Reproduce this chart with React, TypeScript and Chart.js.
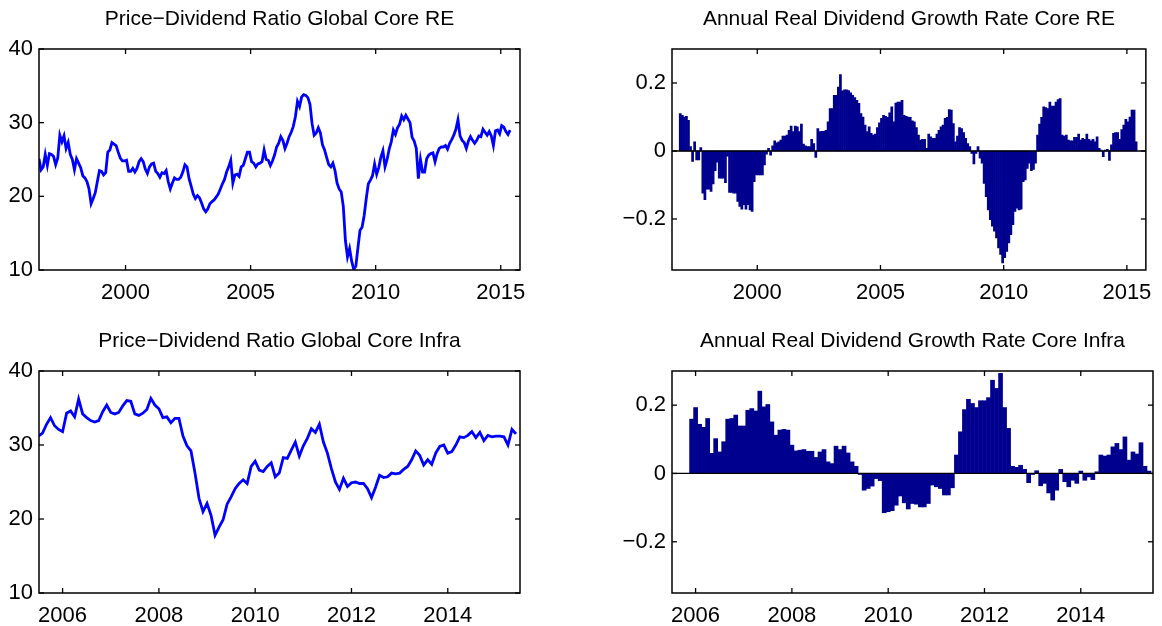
import { useEffect, useRef } from "react";
import { Chart, registerables } from "chart.js";

Chart.register(...registerables);

const FONT = "'Liberation Sans', Arial, Helvetica, sans-serif";

// ---------- Data ----------
// Panel 1: Price-Dividend Ratio Global Core RE (monthly, starting mid-1996)
const RE_PD_START = 1996.54;
const RE_PD = [
  25.1, 23.6, 24.0, 25.7, 24.2, 25.8, 25.7, 25.4, 24.3, 25.2,
  28.3, 27.4, 28.2, 26.5, 27.3, 25.7, 25.0, 23.6, 25.1, 24.5,
  23.9, 22.8, 22.5, 22.0, 21.0, 19.0, 19.7, 20.5, 22.0, 23.5,
  23.4, 22.9, 23.2, 26.0, 26.3, 27.3, 27.1, 26.9, 26.0, 25.2,
  24.8, 24.8, 24.9, 23.4, 23.4, 23.8, 23.3, 23.8, 24.7, 25.1,
  24.7, 23.7, 23.1, 24.0, 24.4, 24.5, 23.4, 23.1, 22.6, 23.2,
  23.1, 23.5, 22.0, 21.0, 21.8, 22.5, 22.3, 22.3, 22.6, 23.3,
  24.3, 24.0, 22.4, 21.4, 20.3, 19.7, 20.1, 19.8, 19.1, 18.3,
  17.9, 18.3, 19.0, 19.3, 19.5, 19.9, 20.3, 21.0, 21.7, 22.3,
  23.3, 24.0, 24.9, 21.8, 22.9, 23.0, 22.7, 24.0, 24.2, 25.1,
  26.0, 26.0, 24.7, 24.5, 24.0, 24.4, 24.5, 24.7, 26.3, 25.0,
  24.9, 24.2, 24.8, 25.6, 26.7, 27.2, 28.1, 27.6, 26.5, 27.2,
  28.1, 28.7, 29.5, 30.8, 32.9, 32.2, 33.5, 33.8, 33.7, 33.4,
  32.5, 29.9, 28.3, 28.6, 29.3, 28.6, 27.0, 26.3, 25.3, 24.3,
  24.0, 24.5, 23.5, 21.8, 21.0, 20.6, 18.6, 14.0, 11.8, 12.9,
  11.2, 10.1, 10.5, 13.0, 15.4, 15.8, 17.4, 19.7, 21.7, 22.2,
  22.8, 24.4, 23.0, 23.9, 25.3, 26.2, 24.0, 25.0, 26.4, 27.4,
  29.0, 28.4, 29.3, 29.8, 30.9, 30.4, 31.0, 30.5, 30.0, 28.0,
  27.5, 26.5, 22.4, 25.0, 23.3, 23.3, 25.1, 25.6, 25.8, 25.9,
  24.7, 25.8, 26.5, 26.7, 26.7, 26.9, 26.4, 27.2, 27.7, 28.3,
  29.1, 30.4, 28.2, 27.6, 27.3, 26.5, 27.5, 28.1, 27.6, 27.2,
  27.6, 28.2, 28.1, 29.1, 28.7, 28.3, 28.8, 28.2, 26.9, 28.9,
  29.0, 28.5, 29.6, 29.4, 28.8, 28.4, 29.0,
];

// Panel 2: Annual Real Dividend Growth Rate Core RE (monthly bars)
const RE_DG_START = 1996.875;
const RE_DG = [
  0.110, 0.105, 0.100, 0.102, 0.090, 0.013, -0.031, 0.027, -0.026, -0.026,
  0.010, -0.124, -0.143, -0.112, -0.112, -0.119, -0.097, -0.058, -0.033, -0.080,
  -0.080, -0.080, -0.093, -0.015, -0.122, -0.122, -0.124, -0.124, -0.148, -0.163,
  -0.171, -0.158, -0.171, -0.158, -0.173, -0.178, -0.090, -0.070, -0.070, -0.070,
  -0.070, -0.041, -0.009, 0.008, -0.012, 0.015, 0.030, 0.024, 0.027, 0.032,
  0.044, 0.044, 0.047, 0.061, 0.073, 0.057, 0.073, 0.071, 0.057, 0.079,
  0.020, 0.015, 0.013, 0.013, 0.034, 0.022, -0.019, 0.066, 0.057, 0.058,
  0.058, 0.061, 0.086, 0.125, 0.125, 0.164, 0.164, 0.188, 0.225, 0.177,
  0.180, 0.180, 0.178, 0.171, 0.164, 0.157, 0.149, 0.140, 0.110, 0.100,
  0.076, 0.057, 0.071, 0.052, 0.047, 0.050, 0.069, 0.083, 0.096, 0.105,
  0.102, 0.099, 0.112, 0.130, 0.086, 0.141, 0.144, 0.144, 0.149, 0.105,
  0.102, 0.100, 0.099, 0.089, 0.086, 0.069, 0.047, 0.032, 0.034, 0.034,
  0.008, 0.050, 0.042, 0.037, 0.037, 0.050, 0.061, 0.071, 0.076, 0.096,
  0.099, 0.122, 0.120, 0.081, 0.027, 0.044, 0.069, 0.066, 0.054, 0.037,
  0.022, 0.013, -0.007, -0.038, -0.007, 0.013, -0.021, -0.036, -0.095, -0.134,
  -0.173, -0.202, -0.221, -0.236, -0.256, -0.285, -0.304, -0.329, -0.314, -0.295,
  -0.270, -0.246, -0.217, -0.178, -0.168, -0.173, -0.171, -0.090, -0.085, -0.051,
  -0.036, -0.058, -0.054, -0.036, 0.047, 0.079, 0.099, 0.130, 0.128, 0.125,
  0.144, 0.132, 0.132, 0.144, 0.151, 0.154, 0.047, 0.044, 0.047, 0.032,
  0.030, 0.030, 0.040, 0.040, 0.050, 0.032, 0.037, 0.034, 0.050, 0.034,
  0.030, 0.034, 0.027, 0.042, 0.008, 0.003, -0.017, 0.003, 0.005, -0.028,
  0.018, 0.052, 0.054, 0.054, 0.034, 0.063, 0.076, 0.093, 0.086, 0.100,
  0.120, 0.120, 0.027,
];

// Panel 3: Price-Dividend Ratio Global Core Infra (monthly, starting mid-2005)
const INFRA_PD_START = 2005.5;
const INFRA_PD = [
  31.2, 31.6, 32.8, 33.7, 32.6, 32.1, 31.8, 34.3, 34.6, 33.8,
  36.2, 34.2, 33.7, 33.3, 33.1, 33.3, 34.5, 35.4, 34.4, 34.2,
  34.4, 35.3, 36.0, 35.9, 34.2, 34.0, 34.3, 34.8, 36.3, 35.4,
  34.9, 33.7, 33.8, 33.0, 33.6, 33.6, 31.2, 29.9, 29.2, 26.2,
  22.8, 21.0, 22.1, 20.5, 17.8, 18.9, 19.9, 22.0, 23.0, 24.1,
  24.8, 25.3, 24.8, 27.1, 27.8, 26.6, 26.4, 27.1, 27.6, 25.7,
  26.2, 28.3, 28.2, 29.3, 30.4, 28.5, 29.9, 30.9, 32.2, 31.7,
  32.8, 30.4, 28.9, 26.8, 25.0, 24.0, 25.5, 24.4, 24.9, 25.0,
  24.8, 24.8, 24.1, 22.9, 24.3, 25.9, 25.6, 25.7, 26.2, 26.1,
  26.2, 26.7, 27.1, 28.0, 29.2, 28.6, 27.3, 28.0, 27.4, 28.9,
  29.8, 30.0, 28.9, 29.1, 30.0, 31.1, 31.0, 31.3, 31.8, 31.0,
  31.7, 30.6, 31.3, 31.1, 31.2, 31.2, 31.1, 30.0, 32.1, 31.5,
];

// Panel 4: Annual Real Dividend Growth Rate Core Infra (monthly bars)
const INFRA_DG_START = 2005.917;
const INFRA_DG = [
  0.159, 0.193, 0.144, 0.135, 0.161, 0.059, 0.102, 0.063, 0.093, 0.159,
  0.161, 0.171, 0.139, 0.139, 0.185, 0.190, 0.183, 0.241, 0.195, 0.202,
  0.151, 0.112, 0.127, 0.129, 0.127, 0.083, 0.066, 0.068, 0.070, 0.065,
  0.065, 0.047, 0.063, 0.070, 0.034, 0.029, 0.080, 0.070, 0.080, 0.060,
  0.034, 0.021, -0.003, -0.049, -0.044, -0.037, -0.015, -0.021, -0.115, -0.112,
  -0.109, -0.093, -0.066, -0.086, -0.104, -0.088, -0.090, -0.098, -0.098, -0.088,
  -0.034, -0.039, -0.044, -0.063, -0.063, -0.042, 0.054, 0.122, 0.187, 0.217,
  0.205, 0.193, 0.213, 0.213, 0.222, 0.273, 0.249, 0.293, 0.193, 0.132,
  0.021, 0.018, 0.024, 0.012, -0.027, -0.003, 0.008, -0.036, -0.029, -0.057,
  -0.078, -0.049, 0.012, -0.024, -0.039, -0.020, -0.029, 0.007, -0.020, -0.010,
  -0.018, 0.005, 0.054, 0.051, 0.054, 0.078, 0.088, 0.070, 0.107, 0.039,
  0.063, 0.057, 0.090, 0.021, 0.007,
];

// Axis tick values
const X_TICKS_RE = [2000, 2005, 2010, 2015];
const X_TICKS_INFRA = [2006, 2008, 2010, 2012, 2014];
const Y_TICKS_PD = [10, 20, 30, 40];
const Y_TICKS_DG = [-0.2, 0, 0.2];

const X_RANGE_RE: [number, number] = [1996.54, 2015.77];
const X_RANGE_INFRA: [number, number] = [2005.51, 2015.5];
const Y_RANGE_PD: [number, number] = [10, 40];
const Y_RANGE_DG: [number, number] = [-0.35, 0.3];

const LINE_COLOR = "#0000ff";
const BAR_COLOR = "#00008f";

function monthly(start: number, values: number[]) {
  return values.map((v, i) => ({ x: start + i / 12, y: v }));
}

// ---------- Plugin: MATLAB-style box, inward ticks, zero baseline ----------
const matlabAxes = {
  id: "matlabAxes",
  afterDatasetsDraw(chart: any, _args: any, opts: any) {
    const { ctx, chartArea } = chart;
    const { left, right, top, bottom } = chartArea;
    const x = chart.scales.x;
    const y = chart.scales.y;
    ctx.save();
    ctx.strokeStyle = "#000";
    ctx.lineWidth = 1.3;
    const line = (x1: number, y1: number, x2: number, y2: number) => {
      ctx.beginPath();
      ctx.moveTo(x1, y1);
      ctx.lineTo(x2, y2);
      ctx.stroke();
    };
    if (opts && opts.zeroLine) {
      const y0 = y.getPixelForValue(0);
      line(left, y0, right, y0);
    }
    const L = 5;
    x.ticks.forEach((t: any) => {
      const px = x.getPixelForValue(t.value);
      line(px, bottom, px, bottom - L);
      line(px, top, px, top + L);
    });
    y.ticks.forEach((t: any) => {
      const py = y.getPixelForValue(t.value);
      line(left, py, left + L, py);
      line(right, py, right - L, py);
    });
    ctx.lineWidth = 1.5;
    ctx.strokeRect(left, top, right - left, bottom - top);
    ctx.restore();
  },
};

type PanelSpec = {
  left: number;
  top: number;
  width: number;
  height: number;
  yAxisWidth: number;
  xAxisHeight: number;
  padRight: number;
  title: string;
  kind: "line" | "bar";
  data: { x: number; y: number }[];
  xRange: [number, number];
  yRange: [number, number];
  xTicks: number[];
  yTicks: number[];
};

function fmtY(v: number) {
  if (v === 0) return "0";
  const s = String(Math.abs(v));
  return v < 0 ? "\u2212" + s : s;
}

function Panel(p: PanelSpec) {
  const ref = useRef<HTMLCanvasElement | null>(null);
  useEffect(() => {
    if (!ref.current) return;
    const dataset: any =
      p.kind === "line"
        ? {
            type: "line",
            data: p.data,
            borderColor: LINE_COLOR,
            borderWidth: 2.8,
            pointRadius: 0,
            tension: 0,
            fill: false,
          }
        : {
            type: "bar",
            data: p.data,
            backgroundColor: BAR_COLOR,
            borderWidth: 0,
            barPercentage: 1,
            categoryPercentage: 1,
          };
    const chart = new Chart(ref.current, {
      type: p.kind,
      data: { datasets: [dataset] },
      plugins: [matlabAxes],
      options: {
        animation: false,
        responsive: false,
        devicePixelRatio: 1,
        layout: { padding: { left: 0, right: p.padRight, top: 0, bottom: 0 } },
        plugins: {
          legend: { display: false },
          tooltip: { enabled: false },
          title: {
            display: true,
            text: p.title,
            fullSize: false,
            color: "#000",
            font: { family: FONT, size: 21, weight: "normal", lineHeight: 1.2 },
            padding: { top: 7, bottom: 16.8 },
          },
          matlabAxes: { zeroLine: p.kind === "bar" },
        } as any,
        scales: {
          x: {
            type: "linear",
            min: p.xRange[0],
            max: p.xRange[1],
            offset: false,
            grid: { display: false, drawTicks: false },
            border: { display: false },
            afterBuildTicks: (s: any) => {
              s.ticks = p.xTicks.map((v) => ({ value: v }));
            },
            afterFit: (s: any) => {
              s.height = p.xAxisHeight;
            },
            ticks: {
              color: "#000",
              padding: 10,
              maxRotation: 0,
              autoSkip: false,
              font: { family: FONT, size: 22 },
              callback: (v: any) => String(v),
            },
          },
          y: {
            type: "linear",
            min: p.yRange[0],
            max: p.yRange[1],
            grid: { display: false, drawTicks: false },
            border: { display: false },
            afterBuildTicks: (s: any) => {
              s.ticks = p.yTicks.map((v) => ({ value: v }));
            },
            afterFit: (s: any) => {
              s.width = p.yAxisWidth;
            },
            ticks: {
              color: "#000",
              padding: 6,
              autoSkip: false,
              font: { family: FONT, size: 22 },
              callback: (v: any) => fmtY(Number(v)),
            },
          },
        },
      } as any,
    });
    return () => chart.destroy();
  }, []);
  return (
    <canvas
      ref={ref}
      width={p.width}
      height={p.height}
      style={{ position: "absolute", left: p.left, top: p.top, width: p.width, height: p.height }}
    />
  );
}

export default function App() {
  return (
    <div style={{ position: "absolute", left: 0, top: 0, width: 1162, height: 626, background: "#fff", overflow: "hidden" }}>
      <Panel
        left={0}
        top={0}
        width={545}
        height={306}
        yAxisWidth={39}
        xAxisHeight={36}
        padRight={25}
        title={"Price\u2212Dividend Ratio Global Core RE"}
        kind="line"
        data={monthly(RE_PD_START, RE_PD)}
        xRange={X_RANGE_RE}
        yRange={Y_RANGE_PD}
        xTicks={X_TICKS_RE}
        yTicks={Y_TICKS_PD}
      />
      <Panel
        left={590}
        top={0}
        width={572}
        height={306}
        yAxisWidth={82}
        xAxisHeight={36}
        padRight={9}
        title="Annual Real Dividend Growth Rate Core RE"
        kind="bar"
        data={monthly(RE_DG_START, RE_DG)}
        xRange={X_RANGE_RE}
        yRange={Y_RANGE_DG}
        xTicks={X_TICKS_RE}
        yTicks={Y_TICKS_DG}
      />
      <Panel
        left={0}
        top={322}
        width={545}
        height={304}
        yAxisWidth={39}
        xAxisHeight={33}
        padRight={25}
        title={"Price\u2212Dividend Ratio Global Core Infra"}
        kind="line"
        data={monthly(INFRA_PD_START, INFRA_PD)}
        xRange={X_RANGE_INFRA}
        yRange={Y_RANGE_PD}
        xTicks={X_TICKS_INFRA}
        yTicks={Y_TICKS_PD}
      />
      <Panel
        left={590}
        top={322}
        width={572}
        height={304}
        yAxisWidth={82}
        xAxisHeight={33}
        padRight={9}
        title="Annual Real Dividend Growth Rate Core Infra"
        kind="bar"
        data={monthly(INFRA_DG_START, INFRA_DG)}
        xRange={X_RANGE_INFRA}
        yRange={Y_RANGE_DG}
        xTicks={X_TICKS_INFRA}
        yTicks={Y_TICKS_DG}
      />
    </div>
  );
}
